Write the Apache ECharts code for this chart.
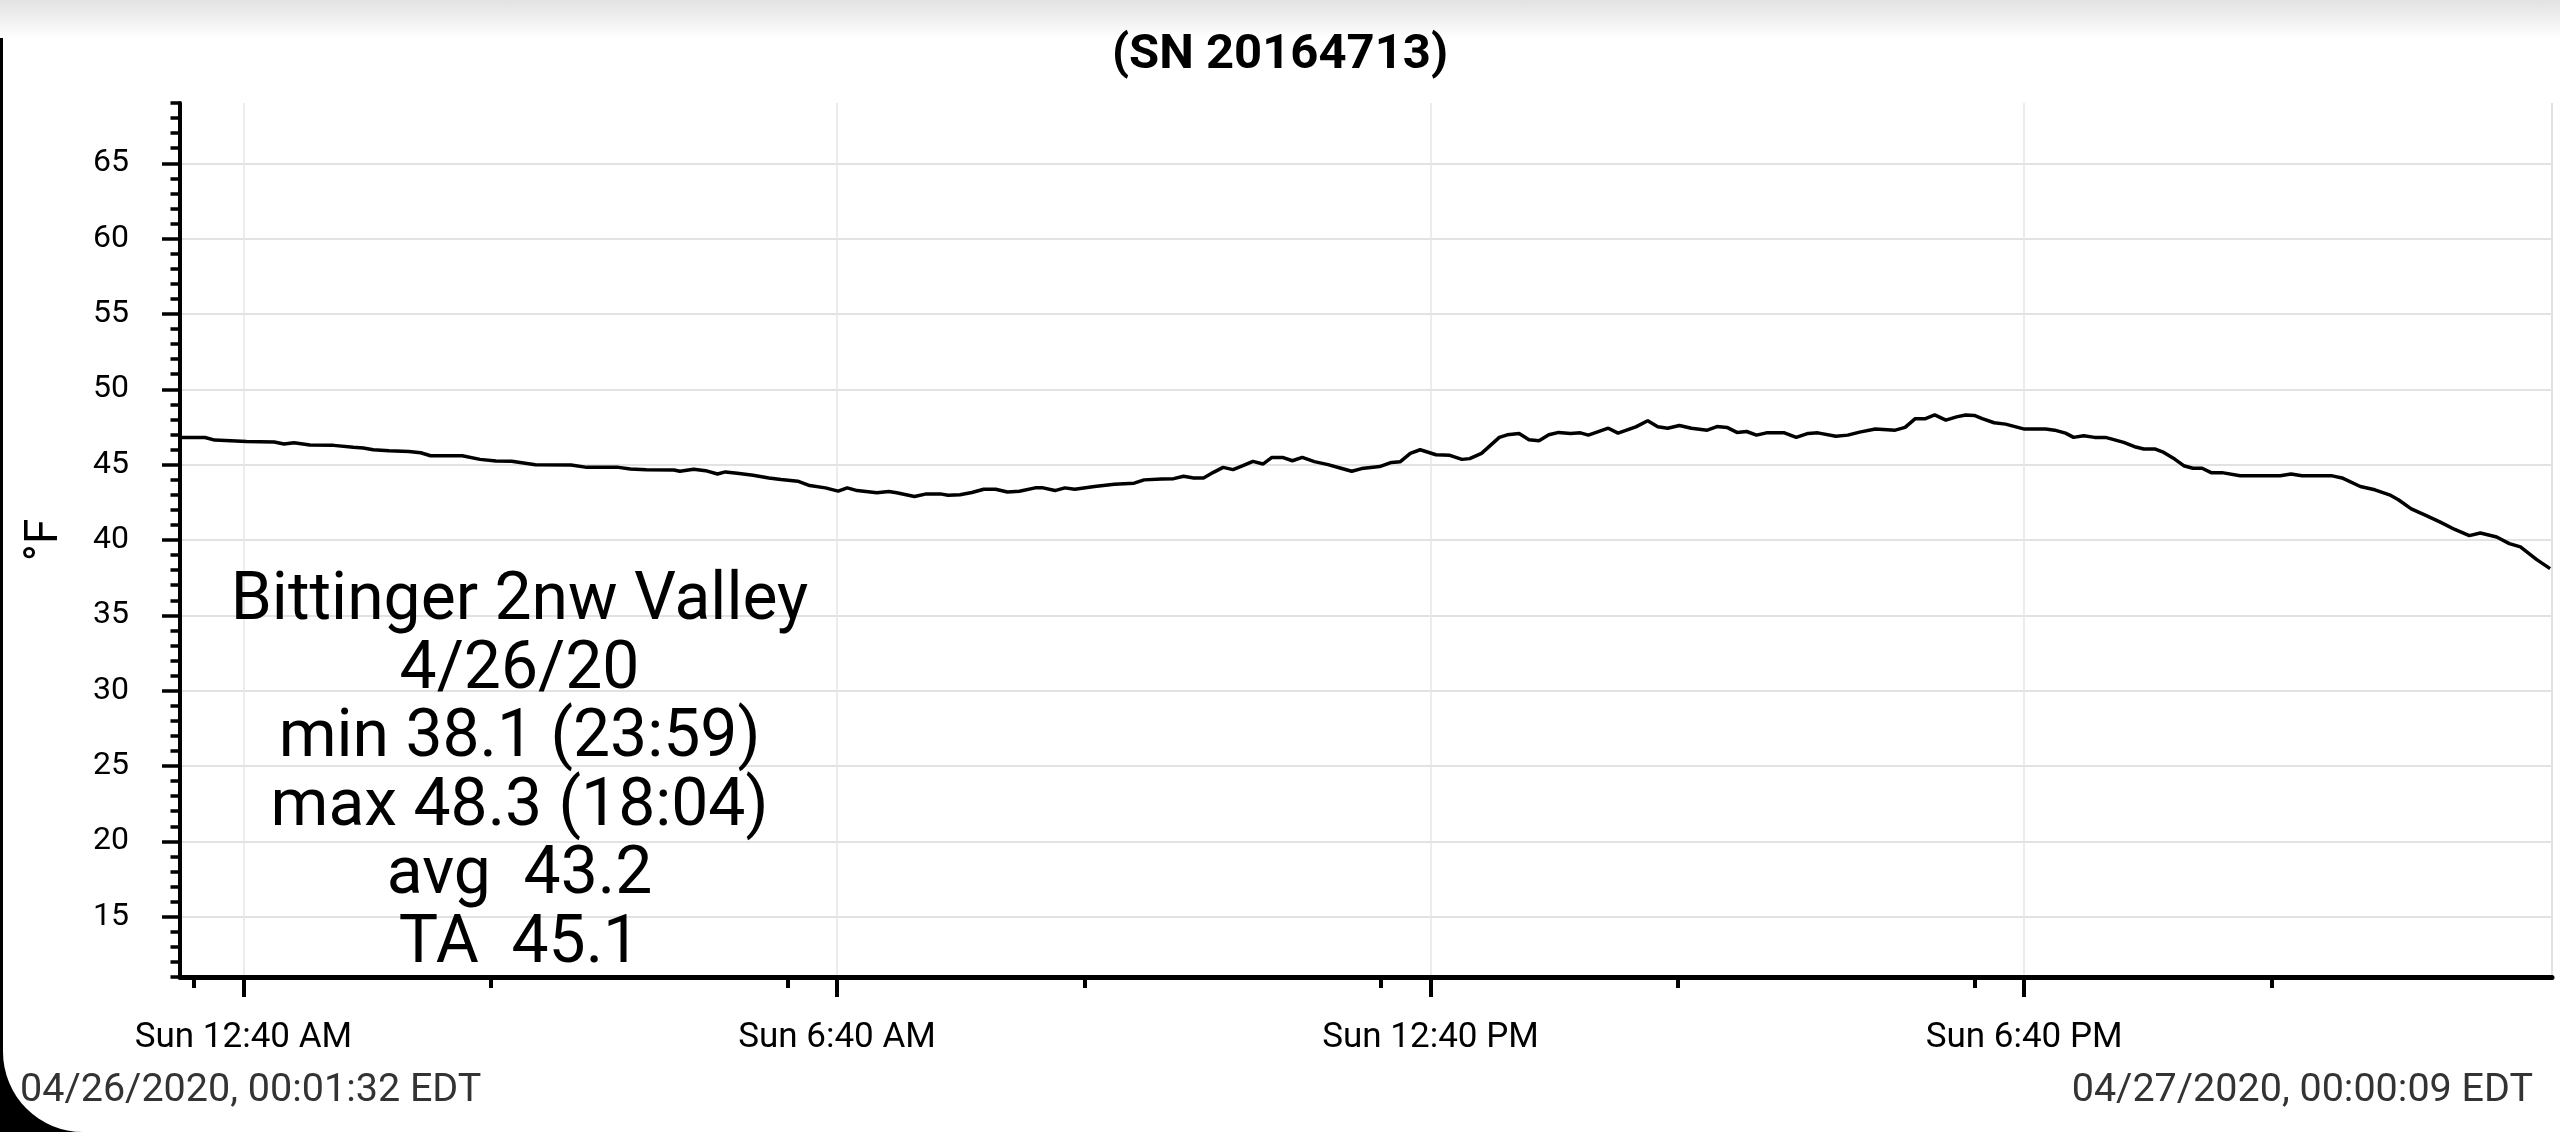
<!DOCTYPE html>
<html>
<head>
<meta charset="utf-8">
<title>Bittinger 2nw Valley</title>
<script src="https://cdn.jsdelivr.net/npm/echarts@6/dist/echarts.min.js"></script>
<style>
  html, body { margin: 0; padding: 0; width: 2560px; height: 1132px; overflow: hidden; background: #000; }
  /* phone screenshot frame: white page, rounded bottom-left corner, grey shade on top */
  #page { position: absolute; left: 3px; top: 0; width: 2557px; height: 1132px; background: #fff; border-bottom-left-radius: 80px; }
  #shade { position: absolute; left: 0; top: 0; width: 2560px; height: 38px; background: linear-gradient(#e2e2e2, #ffffff); }
  #chart { position: absolute; left: 0; top: 0; width: 2560px; height: 1132px; }
</style>
</head>
<body>
<div id="page"></div>
<div id="shade"></div>
<div id="chart"></div>
<script>
// minutes since midnight, 04/26/2020 (EDT)
const minutes = [
  1.5, 16.7, 22.6, 32.3, 41.9, 58.7, 64.6, 70.7, 80.3, 94.7,
  106.7, 112.7, 118.7, 128.3, 140.3, 147.5, 153.5, 172.7, 183.5, 193.1,
  202.7, 217.1, 238.7, 248.3, 267.5, 274.7, 284.3, 301.1, 304.7, 313.1,
  320.3, 327.5, 332.3, 339.5, 349.1, 358.7, 366.0, 376.2, 383.4, 393.0,
  400.7, 406.2, 412.2, 424.2, 431.4, 436.2, 447.0, 454.2, 462.6, 467.4,
  474.6, 481.8, 489.0, 496.2, 503.4, 510.6, 520.2, 525.0, 532.2, 538.2,
  544.2, 556.2, 568.2, 580.2, 586.3, 597.0, 604.2, 610.2, 616.3, 622.3,
  628.3, 634.2, 640.2, 646.2, 652.3, 658.3, 663.8, 670.2, 676.2, 682.2,
  689.5, 697.8, 705.1, 712.2, 718.2, 729.1, 736.3, 741.7, 747.7, 753.7,
  763.3, 771.7, 779.0, 783.7, 790.9, 801.7, 806.5, 813.7, 819.7, 825.8,
  831.7, 837.7, 844.9, 850.9, 855.7, 867.8, 873.7, 884.5, 891.7, 897.8,
  903.8, 910.9, 918.2, 927.8, 933.7, 939.8, 945.8, 951.7, 957.7, 963.7,
  974.6, 981.8, 989.0, 994.9, 1005.8, 1013.0, 1020.2, 1029.8, 1041.8, 1047.8,
  1053.8, 1059.8, 1065.8, 1072.5, 1079.0, 1084.5, 1089.8, 1094.6, 1101.8, 1108.7,
  1120.2, 1133.0, 1138.5, 1145.1, 1150.0, 1156.1, 1162.8, 1169.4, 1180.4, 1187.0,
  1192.6, 1199.2, 1204.7, 1211.3, 1216.8, 1222.4, 1227.9, 1233.4, 1240.0, 1251.0,
  1275.3, 1281.9, 1288.5, 1306.2, 1312.8, 1323.9, 1332.7, 1341.6, 1347.0, 1354.8,
  1363.6, 1372.4, 1381.2, 1390.0, 1396.7, 1406.6, 1414.3, 1421.0, 1430.9, 1439.0
];

// temperature, °F
const tempF = [
  46.8, 46.8, 46.63, 46.59, 46.54, 46.5, 46.37, 46.45, 46.3, 46.28,
  46.15, 46.1, 45.99, 45.93, 45.88, 45.79, 45.59, 45.59, 45.35, 45.24,
  45.22, 45.0, 44.98, 44.82, 44.82, 44.71, 44.67, 44.65, 44.56, 44.69,
  44.6, 44.38, 44.52, 44.43, 44.3, 44.12, 44.02, 43.9, 43.61, 43.46,
  43.24, 43.46, 43.28, 43.13, 43.22, 43.13, 42.89, 43.06, 43.06, 42.97,
  43.0, 43.15, 43.37, 43.37, 43.19, 43.24, 43.46, 43.46, 43.28, 43.46,
  43.37, 43.55, 43.7, 43.77, 43.99, 44.05, 44.07, 44.23, 44.12, 44.12,
  44.49, 44.82, 44.67, 44.93, 45.22, 45.04, 45.48, 45.48, 45.26, 45.48,
  45.2, 45.0, 44.78, 44.56, 44.74, 44.87, 45.15, 45.2, 45.75, 45.99,
  45.66, 45.62, 45.35, 45.4, 45.75, 46.81, 46.98, 47.07, 46.65, 46.59,
  46.98, 47.14, 47.07, 47.11, 46.96, 47.42, 47.09, 47.51, 47.91, 47.51,
  47.42, 47.6, 47.42, 47.29, 47.53, 47.47, 47.14, 47.2, 46.96, 47.11,
  47.11, 46.81, 47.07, 47.11, 46.89, 46.96, 47.16, 47.36, 47.29, 47.47,
  48.04, 48.04, 48.3, 47.95, 48.17, 48.3, 48.27, 48.06, 47.78, 47.69,
  47.36, 47.36, 47.29, 47.09, 46.81, 46.92, 46.81, 46.81, 46.48, 46.19,
  46.04, 46.04, 45.81, 45.37, 44.93, 44.76, 44.76, 44.47, 44.47, 44.27,
  44.27, 44.38, 44.27, 44.27, 44.12, 43.55, 43.33, 43.0, 42.67, 42.07,
  41.63, 41.19, 40.7, 40.29, 40.46, 40.2, 39.76, 39.54, 38.7, 38.1
];

const yLabelTicks = [15, 20, 25, 30, 35, 40, 45, 50, 55, 60, 65];
const xLabelTicks = [40, 400, 760, 1120];                 // 12:40 AM, 6:40 AM, 12:40 PM, 6:40 PM
const xShortTicks = [10, 190, 370, 550, 730, 910, 1090, 1270];
const xStart = 1 + 32 / 60;      // 00:01:32
const xEnd = 1440 + 9 / 60;      // 00:00:09 next day

const titleText = '(SN 20164713)';
const infoLines = ['Bittinger 2nw Valley', '4/26/20', 'min 38.1 (23:59)', 'max 48.3 (18:04)', 'avg  43.2', 'TA  45.1'];
const startStamp = '04/26/2020, 00:01:32 EDT';
const endStamp = '04/27/2020, 00:00:09 EDT';

function clockLabel(m) {
  const h = Math.floor(m / 60) % 24;
  const mm = Math.round(m % 60);
  const h12 = h % 12 === 0 ? 12 : h % 12;
  return 'Sun ' + h12 + ':' + String(mm).padStart(2, '0') + ' ' + (h < 12 ? 'AM' : 'PM');
}

const font = 'Roboto';
const chart = echarts.init(document.getElementById('chart'), null, { renderer: 'canvas' });

const option = {
  backgroundColor: 'transparent',
  animation: false,
  title: {
    text: titleText,
    left: 'center',
    top: 26,
    textStyle: { fontSize: 49, fontWeight: 'bold', color: '#000', fontFamily: font }
  },
  grid: { left: 180, right: 8, top: 103, bottom: 155, containLabel: false, outerBoundsMode: 'none' },
  xAxis: [
    { // main axis: line + 3-hourly short ticks
      type: 'value', position: 'bottom', min: xStart, max: xEnd,
      axisLine: { show: true, lineStyle: { color: '#000', width: 5 } },
      axisTick: { show: true, customValues: xShortTicks, length: 11, lineStyle: { color: '#000', width: 4 } },
      axisLabel: { show: false },
      splitLine: { show: false }
    },
    { // labelled ticks + vertical grid
      type: 'value', position: 'bottom', min: xStart, max: xEnd,
      axisLine: { show: false },
      axisTick: { show: true, customValues: xLabelTicks, length: 20, lineStyle: { color: '#000', width: 4 } },
      axisLabel: {
        customValues: xLabelTicks, formatter: clockLabel, margin: 44,
        fontSize: 35, color: '#000', fontFamily: font
      },
      splitLine: { show: true, lineStyle: { color: '#e6e6e6', width: 1.5 } }
    },
    { // right border line
      type: 'value', position: 'bottom', min: xStart, max: xEnd,
      axisLine: { show: false },
      axisTick: { show: false, customValues: [xEnd] },
      axisLabel: { show: false },
      splitLine: { show: true, lineStyle: { color: '#e2e2e2', width: 2 } }
    }
  ],
  yAxis: [
    {
      type: 'value', position: 'left', min: 11, max: 69,
      name: '°F', nameLocation: 'middle', nameGap: 112,
      nameTextStyle: { fontSize: 46, color: '#000', fontFamily: font },
      axisLine: { show: true, lineStyle: { color: '#000', width: 4 } },
      axisTick: { show: true, customValues: yLabelTicks, length: 18, lineStyle: { color: '#000', width: 3.5 } },
      axisLabel: { customValues: yLabelTicks, margin: 51, fontSize: 32, color: '#000', fontFamily: font },
      splitLine: { show: true, lineStyle: { color: '#e2e2e2', width: 2 } }
    },
    { // 1 °F ticks
      type: 'value', position: 'left', min: 11, max: 69, interval: 1,
      axisLine: { show: false },
      axisTick: { show: true, length: 9.5, lineStyle: { color: '#000', width: 3.5 } },
      axisLabel: { show: false },
      splitLine: { show: false }
    }
  ],
  series: [{
    type: 'line',
    xAxisIndex: 0,
    yAxisIndex: 0,
    data: minutes.map((m, i) => [m, tempF[i]]),
    showSymbol: false,
    symbol: 'none',
    lineStyle: { color: '#000', width: 3.5 },
    z: 5
  }],
  graphic: [
    {
      type: 'text', x: 519.5, y: 774, z: 10,
      style: {
        text: infoLines.join('\n'), fontSize: 66, fontFamily: font, fill: '#000',
        lineHeight: 68.5, textAlign: 'center', textVerticalAlign: 'middle'
      }
    },
    {
      type: 'text', x: 20, y: 1091, z: 10,
      style: { text: startStamp, fontSize: 39.5, fontFamily: font, fill: '#333', textAlign: 'left', textVerticalAlign: 'middle' }
    },
    {
      type: 'text', x: 2533, y: 1091, z: 10,
      style: { text: endStamp, fontSize: 39.5, fontFamily: font, fill: '#333', textAlign: 'right', textVerticalAlign: 'middle' }
    }
  ]
};

chart.setOption(option);
</script>
</body>
</html>
